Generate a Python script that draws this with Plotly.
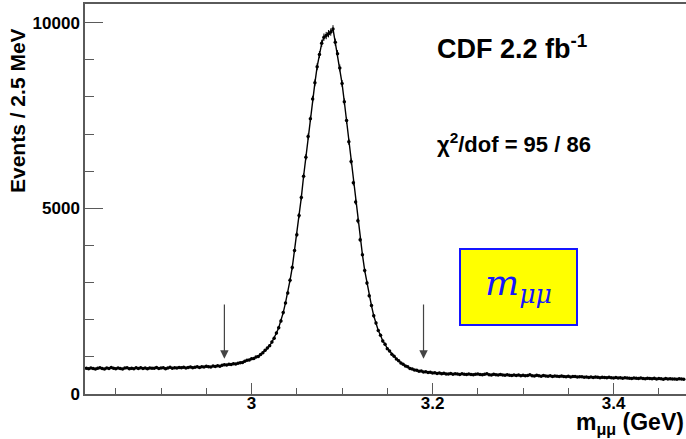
import numpy as np
import plotly.graph_objects as go

# Dimuon invariant-mass spectrum, 2.5 MeV bins
first_bin_centre = 2.8175   # GeV
bin_width = 0.0025          # GeV

events = [
    695, 680, 702, 688, 671, 690, 708, 684, 676, 699,
    687, 712, 694, 680, 701, 689, 675, 698, 706, 683,
    692, 679, 704, 688, 710, 686, 697, 681, 703, 694,
    690, 712, 685, 699, 707, 683, 701, 718, 692, 705,
    698, 715, 706, 722, 701, 713, 728, 709, 719, 731,
    716, 735, 728, 744, 737, 726, 751, 742, 758, 749,
    772, 790, 778, 801, 795, 812, 806, 829, 838, 851,
    880, 912, 918, 950, 958, 996, 1012, 1061, 1112, 1176,
    1238, 1302, 1397, 1504, 1641, 1783, 1968, 2191, 2452, 2722,
    3061, 3408, 3862, 4288, 4803, 5289, 5862, 6377, 6931, 7408,
    7941, 8377, 8812, 9138, 9441, 9608, 9650, 9700, 9745, 9830,
    9470, 9162, 8779, 8362, 7869, 7361, 6789, 6262, 5688, 5172,
    4662, 4155, 3752, 3328, 2991, 2648, 2381, 2108, 1912, 1709,
    1583, 1428, 1342, 1221, 1158, 1071, 1019, 943, 897, 832,
    801, 754, 731, 688, 676, 645, 641, 615, 619, 594,
    598, 579, 588, 566, 574, 555, 564, 548, 557, 541,
    538, 549, 531, 542, 536, 528, 544, 530, 523, 537,
    526, 519, 534, 541, 522, 515, 529, 548, 521, 512,
    531, 518, 509, 524, 513, 502, 519, 508, 497, 514,
    501, 512, 494, 506, 489, 498, 515, 492, 487, 503,
    494, 481, 499, 486, 477, 490, 472, 485, 479, 468,
    482, 470, 464, 477, 459, 468, 473, 455, 462, 466,
    452, 461, 447, 458, 443, 455, 449, 438, 452, 446,
    440, 451, 436, 429, 444, 432, 438, 421, 435, 430,
    426, 419, 433, 422, 414, 428, 418, 409, 423, 416,
    412, 421, 405, 416, 408, 399, 414, 406, 411, 402,
    405, 398, 409, 401, 396,
]

# Signal-window edges marked with arrows (GeV)
window_edges = [2.97, 3.19]
arrow_tail, arrow_tip = 2450, 950

mass = first_bin_centre + bin_width * np.arange(len(events))
counts = np.array(events, dtype=float)

W, H = 686, 439
ML, MR, MT, MB = 85, 0, 4, 45
PW, PH = W - ML - MR, H - MT - MB


def px(x):
    return (x - ML) / PW


def py(y):
    return (H - MB - y) / PH


AXIS = "#5a5a5a"
FONT = "Liberation Sans, Arial, Helvetica, sans-serif"

fig = go.Figure()
fig.add_trace(go.Scatter(
    x=mass, y=counts,
    mode="lines+markers",
    line=dict(color="black", width=1.4),
    marker=dict(color="black", size=3.5),
    error_y=dict(type="data", array=np.sqrt(counts), color="black",
                 thickness=1, width=0),
    showlegend=False,
    hoverinfo="skip",
))

for xe in window_edges:
    fig.add_annotation(
        x=xe, y=arrow_tip, ax=xe, ay=arrow_tail,
        xref="x", yref="y", axref="x", ayref="y",
        text="", showarrow=True, arrowhead=2, arrowsize=1.4,
        arrowwidth=1.2, arrowcolor="#444444",
    )

fig.update_xaxes(
    range=[2.816, 3.48],
    tick0=3.0, dtick=0.2,
    ticks="inside", ticklen=11, tickwidth=1.2, tickcolor=AXIS,
    minor=dict(tick0=3.0, dtick=0.05, ticks="inside", ticklen=6,
               tickwidth=1.2, tickcolor=AXIS),
    showline=True, linecolor=AXIS, linewidth=1.5, mirror=True,
    showgrid=False, zeroline=False, ticklabelstandoff=-7,
    tickfont=dict(family=FONT, size=17, color="black", weight="bold"),
)
fig.update_yaxes(
    range=[0, 10500],
    tick0=0, dtick=5000, tickformat="d",
    ticks="inside", ticklen=18, tickwidth=1.2, tickcolor=AXIS,
    minor=dict(tick0=0, dtick=1000, ticks="inside", ticklen=9,
               tickwidth=1.2, tickcolor=AXIS),
    showline=True, linecolor=AXIS, linewidth=1.5, mirror=False,
    showgrid=False, zeroline=False,
    tickfont=dict(family=FONT, size=17, color="black", weight="bold"),
)

# Yellow label box
fig.add_shape(type="rect", xref="paper", yref="paper",
              x0=px(460), x1=px(577), y0=py(325), y1=py(249),
              fillcolor="#ffff00", line=dict(color="#1515ff", width=2))

annotations = [
    dict(text="CDF 2.2 fb<sup>-1</sup>", x=px(435), y=py(47),
         xanchor="left", yanchor="middle",
         font=dict(family=FONT, size=27, color="black", weight="bold")),
    dict(text="χ<sup>2</sup>/dof = 95 / 86", x=px(435), y=py(143),
         xanchor="left", yanchor="middle",
         font=dict(family=FONT, size=22, color="black", weight="bold")),
    dict(text="Events / 2.5 MeV", x=px(17), y=py(111), textangle=-90,
         xanchor="center", yanchor="middle",
         font=dict(family=FONT, size=21, color="black", weight="bold")),
    dict(text="m<sub>μμ</sub> (GeV)", x=1.0, y=py(439), yshift=-1,
         xanchor="right", yanchor="bottom",
         font=dict(family=FONT, size=23, color="black", weight="bold")),
    dict(text="<i>m</i><sub><i>μμ</i></sub>", x=px(518), y=py(285),
         xanchor="center", yanchor="middle",
         font=dict(family="DejaVu Serif, Liberation Serif, serif",
                   size=36, color="#1515ff")),
]
for a in annotations:
    fig.add_annotation(xref="paper", yref="paper", showarrow=False, **a)

fig.update_layout(
    width=W, height=H,
    margin=dict(l=ML, r=MR, t=MT, b=MB),
    paper_bgcolor="white", plot_bgcolor="white",
)

fig.write_html("out.html")
